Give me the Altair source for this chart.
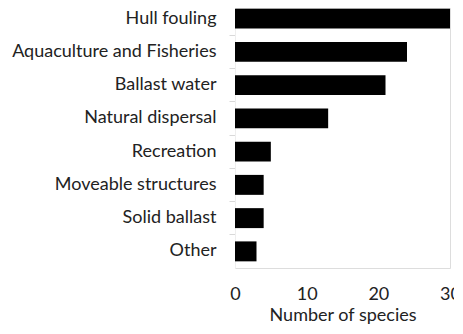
import altair as alt
import pandas as pd

categories = ["Hull fouling", "Aquaculture and Fisheries", "Ballast water",
              "Natural dispersal", "Recreation", "Moveable structures",
              "Solid ballast", "Other"]
species = [30, 24, 21, 13, 5, 4, 4, 3]
x_ticks = [0, 10, 20, 30]

df = pd.DataFrame({"pathway": categories, "n": species})

FONT = "Lato"
TXT = "#222222"

chart = alt.Chart(df).mark_bar(color="#000000", height={"band": 0.6}).encode(
    x=alt.X("n:Q", title="Number of species",
            scale=alt.Scale(domain=[0, 30], nice=False),
            axis=alt.Axis(values=x_ticks, grid=False, domain=False, ticks=False,
                          labelPadding=17, labelFontSize=18, labelFont=FONT,
                          labelColor=TXT, titleFont=FONT, titleFontSize=18,
                          titleFontWeight="normal", titleColor=TXT,
                          titlePadding=3, labelFlush=False)),
    y=alt.Y("pathway:N", title=None, sort=categories,
            scale=alt.Scale(range=[-6, 260], paddingInner=0, paddingOuter=0),
            axis=alt.Axis(bandPosition=0, labelPadding=13, labelFontSize=18,
                          labelFont=FONT, labelColor=TXT, labelLimit=400,
                          tickColor="#d9d9d9", tickSize=6, domainColor="#eeeeee",
                          grid=False)),
).properties(
    width=215, height=260,
    autosize=alt.AutoSizeParams(type="none"),
    padding={"left": 227, "top": 0, "right": 4, "bottom": 58},
).configure_view(stroke=None).configure(background="white")

chart.save("out.html", embed_options={"renderer": "svg", "actions": False})
